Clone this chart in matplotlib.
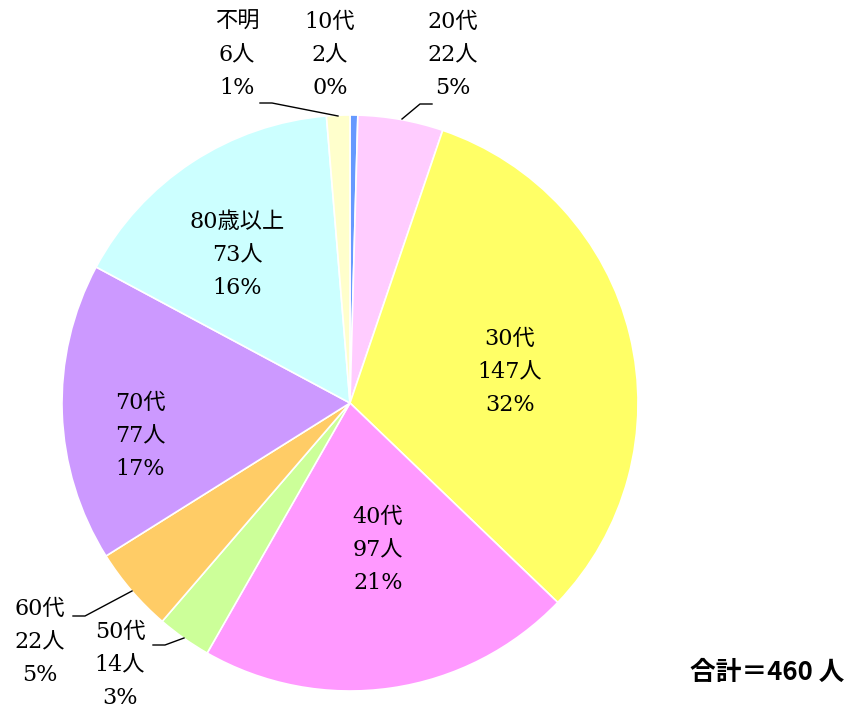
import matplotlib
matplotlib.use("Agg")
import matplotlib.pyplot as plt

categories = ["10代", "20代", "30代", "40代", "50代", "60代", "70代", "80歳以上", "不明"]
counts = [2, 22, 147, 97, 14, 22, 77, 73, 6]
percents = ["0%", "5%", "32%", "21%", "3%", "5%", "17%", "16%", "1%"]
colors = ["#6699FF", "#FFCCFF", "#FFFF66", "#FF99FF", "#CCFF99",
          "#FFCC66", "#CC99FF", "#CCFFFF", "#FFFFCC"]
total_label = "合計＝460 人"

W, H = 850, 716
fig = plt.figure(figsize=(W / 100, H / 100), dpi=100)
cx, cy, R = 350, 403, 288
ax = fig.add_axes([(cx - R) / W, (H - cy - R) / H, 2 * R / W, 2 * R / H])

ax.pie(counts, colors=colors, startangle=90, counterclock=False, radius=1,
       wedgeprops=dict(edgecolor="white", linewidth=1.2))
ax.set_xlim(-1, 1)
ax.set_ylim(-1, 1)
ax.set_aspect("equal")
ax.axis("off")

def px(x, y):
    return ((x - cx) / R, (cy - y) / R)

label_px = [(330, 55), (453, 55), (510, 372), (378, 550), (120, 665),
            (40, 642), (140, 436), (237, 255), (237, 55)]

fam = ["DejaVu Serif", "Noto Sans CJK JP"]
for cat, n, p, (x, y) in zip(categories, counts, percents, label_px):
    tx, ty = px(x, y)
    ax.text(tx, ty, f"{cat}\n{n}人\n{p}", ha="center", va="center",
            fontsize=16, family=fam, linespacing=1.65, clip_on=False)

leaders = [
    [(260, 103), (272, 103), (338, 116)],
    [(402, 119), (420, 104), (432, 104)],
    [(73, 616), (85, 616), (132, 591)],
    [(153, 645), (165, 645), (184, 638)],
]
for pts in leaders:
    xs, ys = zip(*[px(a, b) for a, b in pts])
    ax.plot(xs, ys, color="black", linewidth=1, clip_on=False)

fig.text(767 / W, 1 - 672 / H, total_label, ha="center", va="center",
         fontsize=18.5, family=["Noto Sans CJK JP", "DejaVu Sans"], fontweight="bold")

fig.savefig("out.png", dpi=100)
